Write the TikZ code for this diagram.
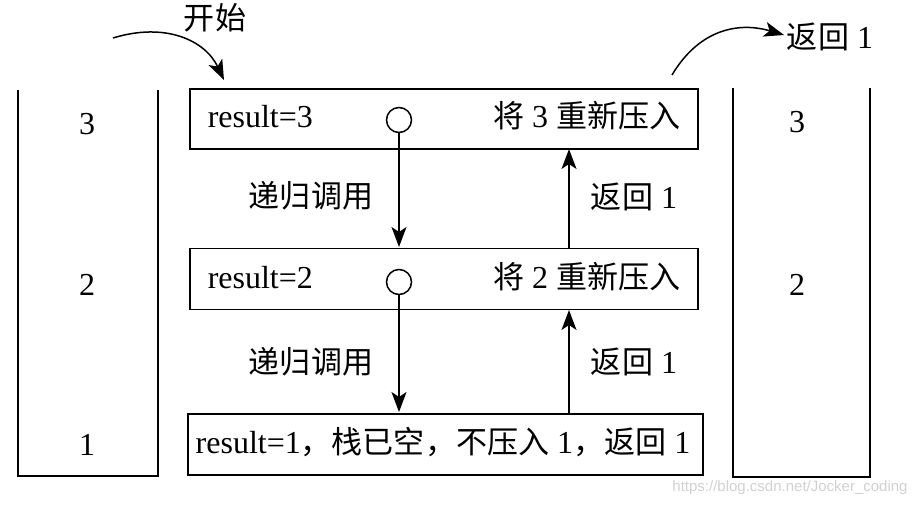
\documentclass[tikz,border=0pt]{standalone}
\usepackage{fontspec}
\setmainfont{Liberation Serif}
\newfontfamily\cjk{Noto Sans CJK SC}[Scale=0.97]
\usetikzlibrary{arrows.meta}
\begin{document}
\begin{tikzpicture}[x=1pt,y=-1pt,
  line width=1.5pt,
  txt/.style={inner sep=0pt,font=\fontsize{32}{33}\selectfont},
  box/.style={draw,line width=1.5pt,inner sep=0pt},
  arr/.style={-{Stealth[length=20pt,width=15pt,inset=5pt]},line width=1.5pt},
  dot/.style={draw,circle,minimum size=25pt,inner sep=0pt,line width=1.5pt}]
\useasboundingbox (0,0) rectangle (924,506);
% stacks
\draw (18,90) -- (18,476) -- (158,476) -- (158,90);
\draw (733,88) -- (733,477) -- (870,477) -- (870,88);
\node[txt] (l3) at (87,124) {3};
\node[txt] (l2) at (87,285) {2};
\node[txt] (l1) at (87,445) {1};
\node[txt] (r3) at (797,122) {3};
\node[txt] (r2) at (797,285) {2};
% boxes
\node[box,minimum width=508pt,minimum height=60pt] (b1) at (444,119) {};
\node[box,minimum width=508pt,minimum height=61pt] (b2) at (444,279) {};
\node[box,minimum width=515pt,minimum height=61pt] (b3) at (445.5,444.5) {};
\node[txt,anchor=west] (t1) at (207,117) {result=3};
\node[txt,anchor=east] (s1) at (681,116) {{\cjk 将} 3 {\cjk 重新压入}};
\node[txt,anchor=west] (t2) at (207,278) {result=2};
\node[txt,anchor=east] (s2) at (681,277) {{\cjk 将} 2 {\cjk 重新压入}};
\node[txt] (t3) at (443,442) {result=1{\cjk ，栈已空，不压入} 1{\cjk ，返回} 1};
\node[dot] (c1) at (399,120) {};
\node[dot] (c2) at (399,282) {};
% arrows
\coordinate (d1) at (399,247);
\coordinate (d2) at (399,412);
\draw[arr] (c1.south) -- (d1);
\draw[arr] (c2.south) -- (d2);
\coordinate (u1s) at (569,248);
\coordinate (u1e) at (569,149);
\coordinate (u2s) at (569,414);
\coordinate (u2e) at (569,310);
\draw[arr] (u1s) -- (u1e);
\draw[arr] (u2s) -- (u2e);
\node[txt] (rc1) at (311,196) {\cjk 递归调用};
\node[txt] (rc2) at (311,362) {\cjk 递归调用};
\node[txt] (rt1) at (634,197) {{\cjk 返回} 1};
\node[txt] (rt2) at (634,362) {{\cjk 返回} 1};
% start / return
\node[txt] (start) at (215,18) {\cjk 开始};
\coordinate (s0) at (113,38);
\coordinate (s1e) at (224,80);
\draw[arr] (s0) .. controls (165,22) and (205,40) .. (s1e);
\node[txt] (ret) at (830,37) {{\cjk 返回} 1};
\coordinate (r0) at (672,75);
\coordinate (r1e) at (784,35);
\draw[arr] (r0) .. controls (700,28) and (740,22) .. (r1e);
\node[inner sep=0pt,text=black!18,font=\fontspec{Liberation Sans}\fontsize{15}{16}\selectfont] (wm) at (790,488) {https://blog.csdn.net/Jocker\_coding};
\end{tikzpicture}
\end{document}
